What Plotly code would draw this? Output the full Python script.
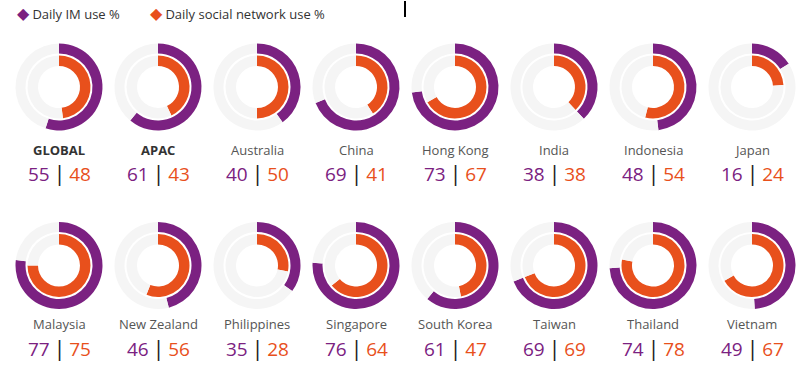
import plotly.graph_objects as go

countries = ["GLOBAL", "APAC", "Australia", "China", "Hong Kong", "India", "Indonesia", "Japan",
             "Malaysia", "New Zealand", "Philippines", "Singapore", "South Korea", "Taiwan", "Thailand", "Vietnam"]
im_use = [55, 61, 40, 69, 73, 38, 48, 16, 77, 46, 35, 76, 61, 69, 74, 49]
social_use = [48, 43, 50, 41, 67, 38, 54, 24, 75, 56, 28, 64, 47, 69, 78, 67]
bold_labels = ["GLOBAL", "APAC"]

W, H = 800, 372
PURPLE = "#7b2181"
ORANGE = "#e8501c"
RING_BG = "#f5f5f5"
FONT = "Open Sans"
THIN = "\u2009"

col_x0, col_dx = 59, 99
row_cy = [87, 265.5]
row_name_y = [150, 324]
row_num_y = [172.5, 347]
R_OUT, HOLE_OUT = 43.5, 33.5 / 43.5
R_IN, HOLE_IN = 31.5, 21.0 / 31.5

def dom(cx, cy, r):
    return dict(x=[(cx - r) / W, (cx + r) / W], y=[(H - cy - r) / H, (H - cy + r) / H])

fig = go.Figure()
annotations = []
for i, name in enumerate(countries):
    row, col = divmod(i, 8)
    cx = col_x0 + col_dx * col
    cy = row_cy[row]
    for val, color, r, hole in [(im_use[i], PURPLE, R_OUT, HOLE_OUT), (social_use[i], ORANGE, R_IN, HOLE_IN)]:
        fig.add_trace(go.Pie(
            values=[val, 100 - val], marker=dict(colors=[color, RING_BG], line=dict(width=0)),
            hole=hole, sort=False, direction="clockwise", rotation=0,
            textinfo="none", hoverinfo="skip", showlegend=False, domain=dom(cx, cy, r)))
    is_bold = name in bold_labels
    annotations.append(dict(
        x=cx / W, y=1 - row_name_y[row] / H, xref="paper", yref="paper", showarrow=False,
        text=f"<b>{name}</b>" if is_bold else name,
        font=dict(family=FONT, size=13, color="#333" if is_bold else "#555"),
        xanchor="center", yanchor="middle"))
    annotations.append(dict(
        x=cx / W, y=1 - row_num_y[row] / H, xref="paper", yref="paper", showarrow=False,
        text=(f"<span style='color:{PURPLE}'>{im_use[i]}</span>"
              f"<span style='color:#222222;font-size:22px'>{THIN}|{THIN}</span>"
              f"<span style='color:{ORANGE}'>{social_use[i]}</span>"),
        font=dict(family=FONT, size=19, color="#333"),
        xanchor="center", yanchor="middle"))

# legend
legend_items = [("Daily IM use %", PURPLE, 15), ("Daily social network use %", ORANGE, 148)]
for label, color, lx in legend_items:
    annotations.append(dict(x=lx / W, y=1 - 13 / H, xref="paper", yref="paper", showarrow=False,
                            text=f"<span style='color:{color};font-size:16px'>◆</span> {label}",
                            font=dict(family=FONT, size=13, color="#333"),
                            xanchor="left", yanchor="middle"))

fig.update_layout(
    width=W, height=H, margin=dict(l=0, r=0, t=0, b=0),
    paper_bgcolor="white", plot_bgcolor="white",
    annotations=annotations,
    shapes=[dict(type="line", xref="paper", yref="paper", x0=405 / W, x1=405 / W,
                 y0=1 - 1 / H, y1=1 - 17 / H, line=dict(color="black", width=2))],
)
fig.write_html("out.html")
